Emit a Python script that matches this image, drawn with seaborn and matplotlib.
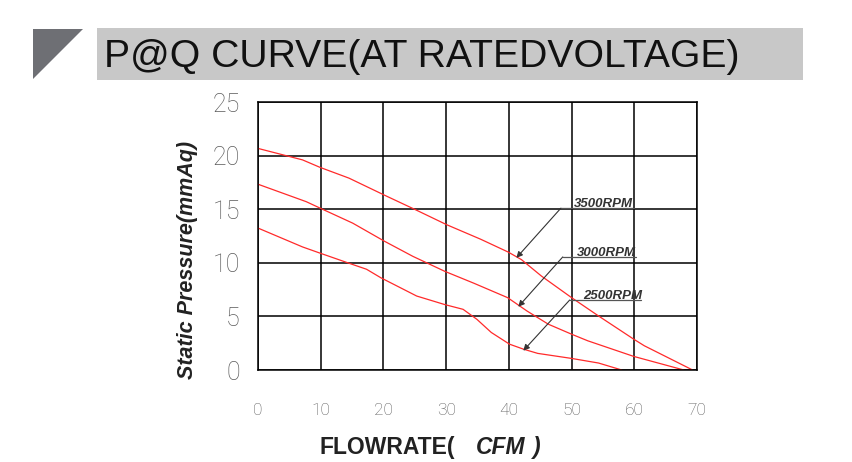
import matplotlib
matplotlib.use("Agg")
import matplotlib.pyplot as plt
import seaborn as sns
import pandas as pd
from matplotlib.patches import Rectangle, Polygon

# ---- data ----
x_3500 = [0, 7.1, 9.9, 14.5, 20.2, 25.3, 30.1, 35.5, 39.9, 42.0, 45.2, 50.0, 54.3, 59.9, 61.6, 69.3]
y_3500 = [20.67, 19.6, 18.9, 17.9, 16.3, 14.9, 13.55, 12.2, 11.0, 10.3, 8.76, 6.75, 5.04, 2.88, 2.26, 0]
x_3000 = [0, 7.7, 9.9, 15.1, 20.2, 24.7, 29.8, 34.4, 39.8, 42.9, 46.3, 50.0, 52.6, 59.9, 67.9]
y_3000 = [17.33, 15.7, 15.1, 13.7, 12.0, 10.6, 9.2, 8.1, 6.75, 5.5, 4.27, 3.34, 2.72, 1.27, 0]
x_2500 = [0, 7.1, 9.9, 15.1, 17.3, 19.6, 25.3, 29.8, 32.7, 34.9, 37.2, 40.1, 42.3, 44.6, 50.0, 54.3, 58.0]
y_2500 = [13.24, 11.48, 10.9, 9.84, 9.4, 8.6, 6.9, 6.1, 5.66, 4.73, 3.5, 2.41, 1.95, 1.55, 1.08, 0.65, 0]

labels = ["3500RPM", "3000RPM", "2500RPM"]
label_text_xy = [(50.3, 15.5), (50.9, 10.9), (51.9, 6.9)]
label_line_start = [(48.3, 15.1), (48.6, 10.55), (49.7, 6.53)]
label_line_end_x = [59.9, 60.2, 61.0]
label_arrow_to = [(41.2, 10.46), (41.5, 5.9), (42.3, 1.8)]

x_ticks = [0, 10, 20, 30, 40, 50, 60, 70]
y_ticks = [0, 5, 10, 15, 20, 25]

title = "P@Q CURVE(AT RATEDVOLTAGE)"
ylabel = "Static Pressure(mmAq)"

# ---- build frame ----
frames = []
for name, xs, ys in [("3500RPM", x_3500, y_3500), ("3000RPM", x_3000, y_3000), ("2500RPM", x_2500, y_2500)]:
    frames.append(pd.DataFrame({"flow": xs, "pressure": ys, "speed": name}))
df = pd.concat(frames, ignore_index=True)

sns.set_style("white")
plt.rcParams['font.family'] = ['Liberation Sans', 'DejaVu Sans']

W, H = 853, 462
fig = plt.figure(figsize=(W / 100, H / 100), dpi=100)

def fx(px):
    return px / W

def fy(py):
    return 1 - py / H

ax = fig.add_axes([fx(258), fy(370), fx(697) - fx(258), fy(102) - fy(370)])

sns.lineplot(data=df, x="flow", y="pressure", hue="speed", units="speed", estimator=None,
             sort=False, palette=["#ff2a2a"] * 3, linewidth=0.9, legend=False, ax=ax)

ax.set_xlim(0, 70)
ax.set_ylim(0, 25)
ax.set_xticks(x_ticks)
ax.set_yticks(y_ticks)
ax.grid(True, color="black", linewidth=1.1)
ax.set_axisbelow(True)
for s in ax.spines.values():
    s.set_color("black")
    s.set_linewidth(1.1)
ax.tick_params(axis="both", length=0)
ax.tick_params(axis="y", pad=13)
ax.tick_params(axis="x", pad=24)
for t in ax.get_yticklabels():
    t.set_fontfamily(["Roboto", "DejaVu Sans"])
    t.set_fontweight("light")
    t.set_fontsize(18)
    t.set_color("#5a5a5a")
for t in ax.get_xticklabels():
    t.set_fontfamily(["Roboto", "DejaVu Sans"])
    t.set_fontweight("light")
    t.set_fontsize(12.5)
    t.set_color("#5a5a5a")
ax.set_xlabel("")
ax.set_ylabel("")

# annotations
for lab, txy, ls, lex, at in zip(labels, label_text_xy, label_line_start, label_line_end_x, label_arrow_to):
    ax.text(txy[0], txy[1], lab, fontsize=9.5, fontweight="bold", fontstyle="italic",
            color="#333333", ha="left", va="center")
    ax.plot([ls[0], lex], [ls[1], ls[1]], color="#555555", linewidth=0.9)
    ax.annotate("", xy=at, xytext=ls,
                arrowprops=dict(arrowstyle="-|>", color="#333333", linewidth=0.8,
                                mutation_scale=9, shrinkA=0, shrinkB=0))

# y label
fig.text(fx(188), fy(260), ylabel, rotation=90, fontsize=15.5, fontweight="bold",
         fontstyle="italic", color="#222222", ha="center", va="center")

# x label
base = fy(454)
fig.text(fx(320), base, "FLOWRATE(", fontsize=16.5, fontweight="bold",
         color="#222222", ha="left", va="baseline")
fig.text(fx(476), base, "CFM", fontsize=16.5, fontweight="bold", fontstyle="italic",
         color="#222222", ha="left", va="baseline")
fig.text(fx(532), base, ")", fontsize=16.5, fontweight="bold", fontstyle="italic",
         color="#222222", ha="left", va="baseline")

# title band
fig.patches.append(Rectangle((fx(97), fy(80)), fx(803) - fx(97), fy(28) - fy(80),
                             transform=fig.transFigure, facecolor="#c8c8c8", edgecolor="none", zorder=0))
fig.patches.append(Polygon([(fx(33), fy(29)), (fx(83), fy(29)), (fx(33), fy(79))], closed=True,
                           transform=fig.transFigure, facecolor="#6e6f74", edgecolor="none", zorder=0))
fig.text(fx(104), fy(67), title, fontsize=28.2, color="#111111",
         ha="left", va="baseline")

fig.savefig("out.png", dpi=100, facecolor="white")
